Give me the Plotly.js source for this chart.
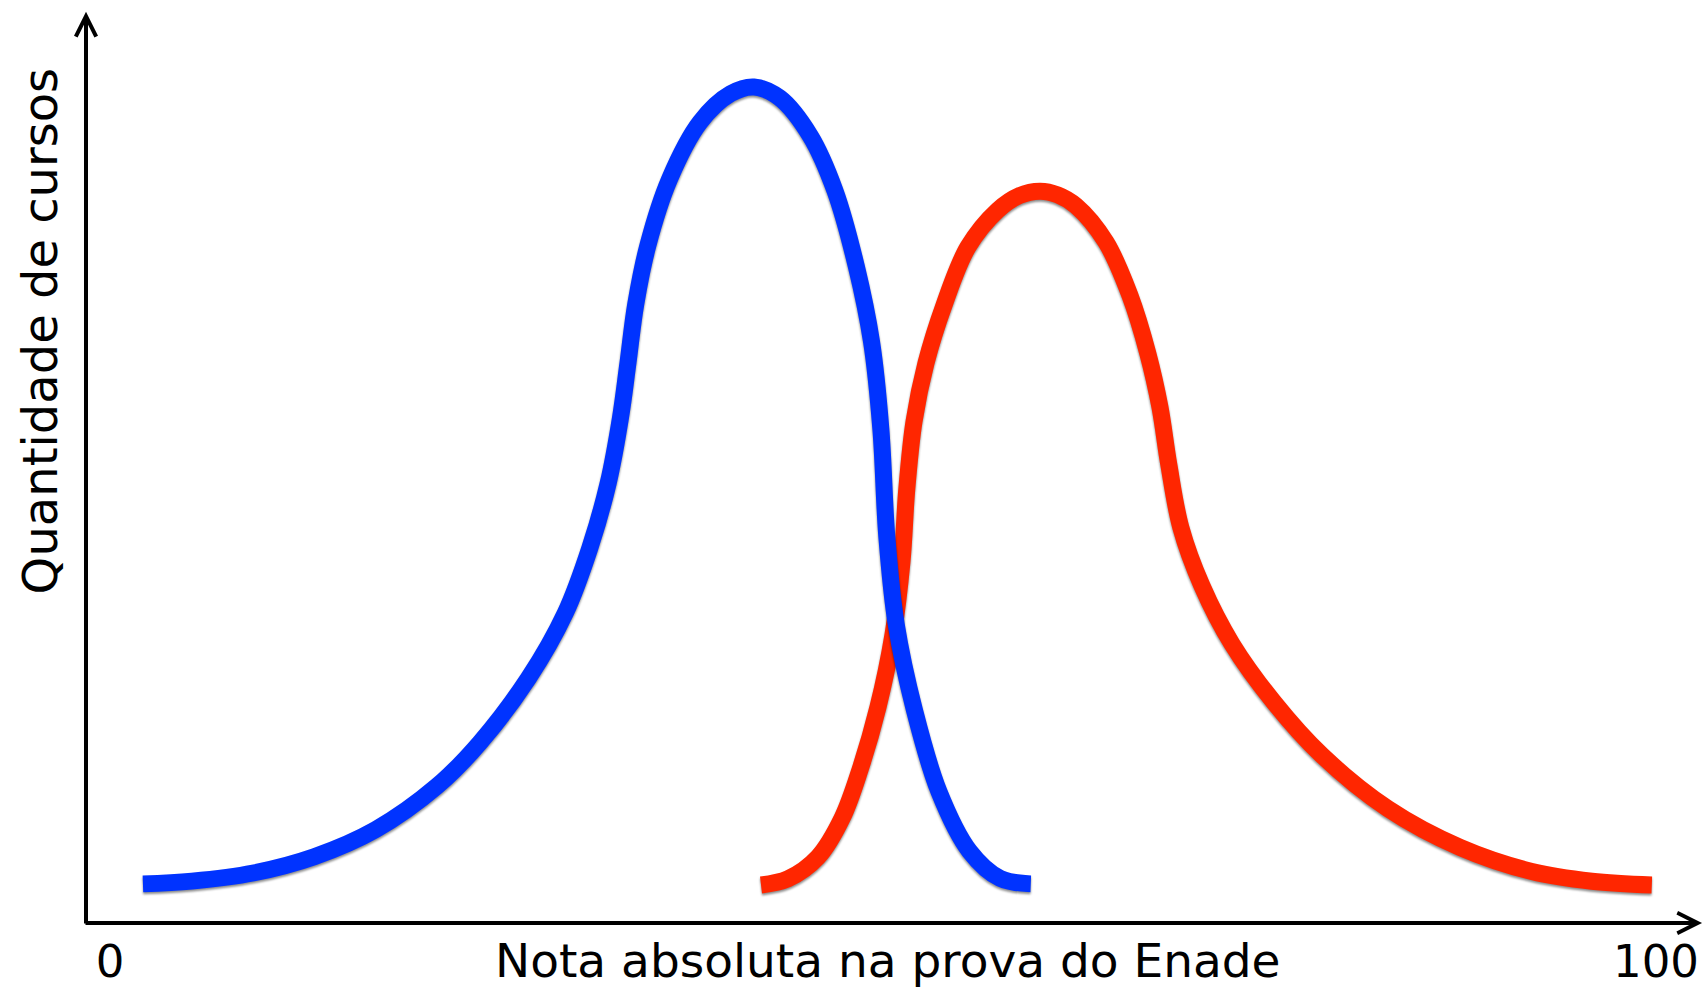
<!DOCTYPE html>
<html>
<head>
<meta charset="utf-8">
<script src="https://cdn.plot.ly/plotly-3.0.1.min.js"></script>
<style>
html,body{margin:0;padding:0;background:#fff;}
#chart{width:1704px;height:991px;}
</style>
</head>
<body>
<div id="chart"></div>
<script>
// Score (0-100) and relative quantity of courses
var blueScore = [2.13, 5.30, 9.26, 13.21, 17.18, 21.14, 23.91, 27.08, 29.46, 31.04, 32.23, 33.02, 33.50, 34.01, 34.81, 36.19, 38.17, 40.15, 41.66, 43.32, 45.30, 46.88, 48.27, 49.26, 49.86, 50.25, 50.85, 52.04, 53.62, 55.60, 57.58, 59.56];
var blueQty   = [4.68, 5.01, 5.98, 7.93, 11.17, 16.35, 21.54, 29.32, 37.11, 44.88, 52.66, 60.44, 66.93, 74.05, 81.18, 88.97, 95.80, 99.20, 100.0, 98.70, 94.15, 87.67, 78.59, 69.52, 59.14, 46.17, 35.80, 25.43, 15.71, 8.58, 5.33, 4.68];

var redScore = [42.11, 43.86, 45.80, 47.35, 48.51, 49.68, 50.65, 51.23, 51.54, 52.01, 52.78, 53.95, 55.50, 57.44, 58.80, 60.16, 61.30, 62.48, 64.42, 65.97, 67.13, 67.91, 68.49, 69.27, 70.63, 72.57, 75.28, 78.39, 82.66, 87.32, 91.97, 95.85, 99.73];
var redQty   = [4.55, 5.29, 7.89, 12.52, 18.31, 25.85, 34.53, 43.23, 51.91, 60.02, 66.97, 73.92, 80.87, 85.30, 87.00, 87.54, 87.10, 85.80, 81.46, 75.08, 68.13, 61.76, 54.81, 47.28, 40.34, 33.39, 26.42, 20.06, 13.68, 9.05, 6.16, 5.00, 4.55];

var tickValues = [0, 100];
var tickLabels = ['0', '100'];

var xTitle = 'Nota absoluta na prova do Enade';
var yTitle = 'Quantidade de cursos';

var FONT = 'DejaVu Sans, Verdana, sans-serif';
var xRange = [-1.552, 103.106];
var yRange = [0, 110.41];

var traces = [
  {x: redScore, y: redQty, mode: 'lines', type: 'scatter',
   line: {color: 'rgb(255,38,0)', width: 17, shape: 'spline', smoothing: 1}, hoverinfo: 'skip'},
  {x: blueScore, y: blueQty, mode: 'lines', type: 'scatter',
   line: {color: 'rgb(0,51,255)', width: 17, shape: 'spline', smoothing: 1}, hoverinfo: 'skip'}
];

var layout = {
  width: 1704, height: 991,
  margin: {l: 86, r: 0, t: 0, b: 68},
  paper_bgcolor: '#fff', plot_bgcolor: '#fff',
  showlegend: false,
  xaxis: {range: xRange, showgrid: false, zeroline: false, showline: false,
          tickvals: tickValues, ticktext: tickLabels, ticks: '',
          tickfont: {family: FONT, size: 45, color: '#000'}, ticklabelstandoff: 8, fixedrange: true},
  yaxis: {range: yRange, showgrid: false, zeroline: false, showline: false,
          showticklabels: false, ticks: '', fixedrange: true},
  annotations: [
    {xref: 'x', yref: 'y', axref: 'x', ayref: 'y', x: xRange[0], y: 109.0, ax: xRange[0], ay: -0.25,
     text: '', showarrow: true, arrowhead: 5, arrowsize: 1, arrowwidth: 4, arrowcolor: '#000', standoff: 0},
    {xref: 'x', yref: 'y', axref: 'x', ayref: 'y', x: 102.98, y: 0, ax: xRange[0] - 0.13, ay: 0,
     text: '', showarrow: true, arrowhead: 5, arrowsize: 1, arrowwidth: 4, arrowcolor: '#000', standoff: 0},
    {xref: 'x', yref: 'paper', x: 50.3, y: -0.0401, xanchor: 'center', yanchor: 'middle',
     text: xTitle, showarrow: false, font: {family: FONT, size: 47, color: '#000'}},
    {xref: 'paper', yref: 'paper', x: -0.0284, y: 0.641, xanchor: 'center', yanchor: 'middle',
     text: yTitle, textangle: -90, showarrow: false, font: {family: FONT, size: 48, color: '#000'}}
  ]
};

Plotly.newPlot('chart', traces, layout, {staticPlot: true, displayModeBar: false}).then(function () {
  document.querySelectorAll('.scatterlayer .js-line').forEach(function (p) {
    p.style.filter = 'drop-shadow(0px 2px 1px rgba(0,0,0,0.45))';
  });
});
</script>
</body>
</html>
